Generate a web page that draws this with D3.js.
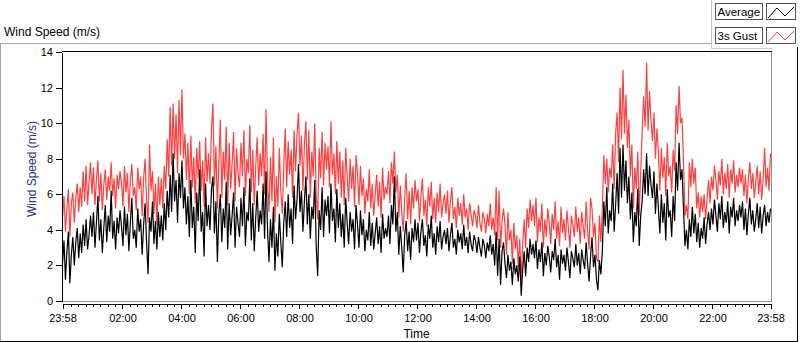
<!DOCTYPE html>
<html>
<head>
<meta charset="utf-8">
<script src="https://cdnjs.cloudflare.com/ajax/libs/d3/7.8.5/d3.min.js"></script>
<title>Wind Speed</title>
<style>
  body { margin: 0; background: #fff; }
  svg text { font-family: "Liberation Sans", Arial, sans-serif; }
</style>
</head>
<body>
<script>
// one sample every 3 minutes, 23:58 -> 23:58 next day
const stepMinutes = 3;
const seriesNames = ["Average", "3s Gust"];
const tickLabels = ["23:58", "02:00", "04:00", "06:00", "08:00", "10:00", "12:00",
                    "14:00", "16:00", "18:00", "20:00", "22:00", "23:58"];
const yTicks = [0, 2, 4, 6, 8, 10, 12, 14];

// average wind speed (m/s), one row per hour
const avgSpeed = [
  2.1,3.4,1.2,2.8,3.9,1.0,2.6,3.6,2.0,3.3,4.1,2.4,3.8,2.7,4.3,3.1,4.6,2.9,3.7,4.8,
  3.6,5.0,3.0,4.4,5.9,3.4,4.6,2.7,4.1,5.4,3.3,4.8,3.9,6.2,3.5,4.5,2.9,4.7,3.8,5.1,
  4.2,3.1,5.3,3.7,4.9,2.8,4.4,5.8,3.5,4.0,3.0,5.2,3.9,4.6,2.6,4.3,5.5,3.3,1.5,4.7,
  3.9,5.6,3.2,4.5,2.9,5.0,3.6,4.8,3.4,5.5,4.0,6.2,4.7,7.1,5.0,8.3,5.6,6.8,4.4,7.2,
  5.8,7.9,5.2,6.4,4.3,5.9,3.6,6.8,4.1,5.3,2.7,6.1,4.5,7.4,3.9,5.0,2.5,6.6,4.2,5.4,
  4.0,6.3,7.0,3.8,5.6,2.2,4.9,6.0,3.3,5.2,4.1,6.7,2.9,5.5,3.7,4.8,6.1,3.0,5.3,4.4,
  3.6,5.8,4.2,6.4,3.1,5.0,4.5,6.9,3.4,5.5,2.8,4.7,6.2,3.9,5.1,4.3,6.6,3.5,7.3,4.0,
  2.2,4.6,3.0,5.3,1.7,3.8,2.5,4.9,3.3,1.9,4.4,5.6,3.6,6.0,4.1,5.2,3.2,6.5,4.6,5.7,
  7.7,5.0,6.2,3.9,5.6,7.0,4.3,6.0,3.5,5.3,4.6,6.8,3.1,1.4,5.1,4.0,6.4,3.6,5.7,4.8,
  5.9,3.8,6.6,4.5,5.2,3.3,6.3,4.1,5.5,3.6,4.9,3.0,5.8,4.4,3.2,5.0,3.9,4.6,2.9,5.4,
  4.3,3.0,5.1,3.7,4.6,2.8,4.0,3.4,5.0,3.1,4.4,2.9,3.8,4.7,3.2,4.2,2.7,4.9,3.5,4.1,
  3.6,4.8,3.2,5.4,4.3,7.0,3.9,5.0,2.6,4.2,3.0,1.6,3.7,4.5,2.8,3.9,2.3,4.1,3.3,4.6,
  3.4,4.4,2.7,3.9,4.6,3.1,3.7,2.5,4.3,3.5,4.8,3.0,3.8,2.6,4.2,3.3,4.5,2.9,3.6,4.0,
  3.2,4.1,2.8,3.7,4.4,3.0,3.5,2.6,4.0,3.3,3.8,2.9,4.3,3.1,3.6,2.7,3.9,3.2,2.8,3.7,
  3.4,2.7,3.6,3.0,2.5,3.5,3.1,2.4,3.3,2.8,3.7,2.6,3.2,2.0,3.9,1.4,3.5,0.9,2.8,3.3,
  2.1,1.3,2.6,1.7,2.2,0.9,2.4,1.5,2.0,1.1,2.5,0.3,1.8,2.8,1.4,3.0,2.2,3.5,2.6,3.2,
  2.4,3.4,1.8,2.9,2.2,3.3,1.4,2.7,2.0,3.1,2.5,1.6,2.8,2.3,3.5,1.9,2.6,1.2,2.9,2.1,
  2.6,1.7,3.0,2.2,1.3,2.8,2.4,1.9,3.2,2.0,2.7,1.5,2.9,2.3,1.8,3.3,2.1,1.1,2.5,3.6,
  1.9,2.6,1.2,0.6,2.3,1.5,2.8,5.6,4.2,6.4,3.8,5.1,4.5,6.6,3.9,5.4,7.2,4.9,8.6,5.8,
  8.8,6.2,7.9,5.5,7.0,4.6,6.1,3.3,5.0,4.2,6.3,3.1,4.8,5.6,7.4,6.0,8.3,5.9,7.6,6.5,
  5.8,7.3,4.9,6.6,5.2,3.8,6.0,4.4,5.5,3.4,6.3,4.7,5.1,3.6,5.9,4.5,7.8,6.2,8.9,6.8,
  7.4,5.2,3.1,4.0,2.9,4.6,3.6,5.3,3.8,4.9,3.3,4.4,3.0,4.1,3.5,4.7,3.2,4.3,5.0,4.0,
  5.2,4.3,5.7,4.8,3.9,5.5,4.6,5.9,4.1,5.0,4.4,5.6,3.8,5.3,4.7,5.8,4.2,5.1,4.5,5.4,
  4.7,5.6,4.0,5.2,3.7,4.9,5.8,4.3,5.1,3.9,4.6,5.5,4.1,5.3,3.8,4.8,5.4,4.2,5.0,4.4,5.2
];

// 3 second gust (m/s), one row per hour
const gustSpeed = [
  4.6,5.9,3.9,5.2,6.3,3.6,5.5,6.1,4.4,5.8,6.6,5.0,6.4,5.3,7.3,5.6,7.6,5.4,6.7,7.8,
  6.0,7.5,5.4,6.8,7.9,5.6,7.2,5.1,6.5,7.4,5.7,7.0,6.2,7.8,5.9,6.9,5.2,7.1,6.3,7.3,
  6.6,5.3,7.6,6.1,7.2,5.0,6.8,7.7,5.9,6.4,5.1,7.5,6.3,7.0,4.8,6.9,8.0,5.6,4.4,8.8,
  6.2,7.3,4.9,6.6,4.3,7.0,5.4,6.9,5.2,7.6,6.3,9.1,7.0,10.9,7.6,11.1,8.0,10.5,7.2,11.3,
  8.2,11.9,8.0,9.4,6.8,8.9,6.0,9.3,6.4,8.1,5.5,8.6,6.9,9.0,6.2,7.9,5.3,9.2,6.7,8.3,
  6.6,9.6,11.1,6.5,8.7,5.2,7.8,10.2,5.8,8.4,6.8,9.8,5.4,8.9,6.3,7.7,9.5,5.6,8.6,7.2,
  6.4,8.9,7.0,9.6,5.9,8.0,7.2,9.9,6.1,8.5,5.4,7.6,9.2,6.5,8.3,7.0,9.4,6.0,10.8,6.8,
  5.0,8.1,5.6,9.2,4.4,7.0,5.3,8.6,6.2,4.9,7.6,9.7,6.4,9.0,7.1,8.5,5.8,9.6,7.3,9.4,
  10.6,7.6,9.3,6.2,8.8,10.1,6.8,9.6,5.8,8.4,7.0,10.0,5.9,4.6,8.6,6.9,9.5,6.5,8.9,7.4,
  8.7,6.4,10.1,7.1,8.3,6.0,9.0,6.6,8.4,5.8,7.9,5.4,8.6,7.0,5.6,8.0,6.3,7.6,5.3,8.2,
  7.2,5.4,7.6,5.9,6.9,4.9,6.3,5.6,7.4,5.2,6.6,4.8,6.0,7.1,5.3,6.7,4.7,7.5,5.7,6.4,
  6.0,7.3,5.5,7.8,6.6,8.4,6.1,7.1,4.7,6.5,5.0,3.9,5.8,7.2,4.6,6.2,4.3,6.4,5.2,6.8,
  5.6,6.3,4.5,5.9,6.9,4.8,5.7,4.2,6.4,5.3,6.7,4.6,5.8,4.4,6.1,5.0,6.6,4.7,5.5,6.0,
  4.9,6.2,4.4,5.6,6.4,4.6,5.3,4.1,5.8,4.8,5.5,4.3,6.0,4.7,5.2,4.0,5.5,4.9,4.2,5.1,
  4.8,4.1,5.4,4.4,3.9,5.0,4.6,3.8,4.9,4.2,5.5,4.0,4.7,3.7,6.4,3.4,6.2,3.0,4.5,5.2,
  4.3,2.6,5.0,3.4,4.0,2.1,4.4,2.9,3.7,1.9,3.5,1.2,3.2,4.6,3.0,5.2,4.1,5.7,4.5,5.4,
  4.2,5.8,3.3,4.7,3.9,5.5,3.0,4.6,3.6,5.2,4.4,3.2,4.9,4.0,5.6,3.5,4.5,3.1,5.3,3.8,
  4.6,3.4,5.1,4.1,3.0,4.8,4.3,3.6,5.3,3.9,4.7,3.2,5.0,4.2,3.5,5.6,4.0,2.9,5.8,5.2,
  3.6,4.4,2.4,2.2,4.8,3.3,5.2,8.2,6.6,8.0,6.1,7.5,6.9,8.8,6.3,9.4,10.6,7.8,12.0,9.1,
  13.0,9.4,11.6,8.6,10.2,7.0,8.8,5.2,7.5,6.3,8.4,4.8,7.2,9.5,11.5,9.8,13.4,9.6,11.8,10.1,
  9.0,10.6,8.0,9.7,8.4,6.2,8.6,6.9,8.1,5.9,8.9,7.0,7.6,6.1,8.5,7.3,11.0,9.4,12.1,10.0,
  10.3,7.9,4.8,5.4,4.6,7.8,6.4,8.0,6.6,7.5,5.2,6.1,4.7,5.9,5.0,6.0,4.6,5.7,6.8,5.5,
  7.0,6.2,7.6,6.8,5.7,7.3,6.5,8.0,6.0,7.2,6.3,7.7,5.8,7.4,6.6,7.9,6.1,7.1,6.4,7.5,
  6.6,7.4,5.9,7.1,5.5,6.9,7.8,6.3,7.2,5.8,6.7,7.6,6.0,7.3,5.7,6.8,8.6,6.4,7.5,6.2,8.3
];

const colors = { "Average": "#000000", "3s Gust": "#ff4040" };

const W = 800, H = 342;
const svg = d3.select("body").append("svg")
    .attr("width", W)
    .attr("height", H);

const start = new Date(2000, 0, 1, 23, 58);
const end = d3.timeMinute.offset(start, 1440);
const timeAt = i => d3.timeMinute.offset(start, i * stepMinutes);

const plot = { left: 62, right: 772, top: 52, bottom: 301 };

const x = d3.scaleTime().domain([start, end]).range([62.5, 770.5]);
const y = d3.scaleLinear().domain([0, 14]).range([plot.bottom, plot.top]);

// outer frame (sunken look) and title
svg.append("line").attr("x1", 0).attr("x2", 711).attr("y1", 43.5).attr("y2", 43.5)
    .attr("stroke", "#a0a0a0");
svg.append("line").attr("x1", 0.5).attr("x2", 0.5).attr("y1", 43).attr("y2", 341)
    .attr("stroke", "#a0a0a0");
svg.append("line").attr("x1", 0).attr("x2", 798).attr("y1", 341.5).attr("y2", 341.5)
    .attr("stroke", "#000");
svg.append("line").attr("x1", 797.5).attr("x2", 797.5).attr("y1", 47).attr("y2", 342)
    .attr("stroke", "#000");

svg.append("text")
    .attr("x", 4).attr("y", 36)
    .style("font-size", "12px")
    .attr("fill", "#000")
    .text("Wind Speed (m/s)");

// plot area border
svg.append("rect")
    .attr("x", plot.left).attr("y", plot.top)
    .attr("width", plot.right - plot.left).attr("height", plot.bottom - plot.top)
    .attr("fill", "#fff");
svg.append("line").attr("x1", plot.left).attr("x2", plot.right)
    .attr("y1", plot.top - 0.5).attr("y2", plot.top - 0.5).attr("stroke", "#000");
svg.append("line").attr("x1", plot.right - 0.5).attr("x2", plot.right - 0.5)
    .attr("y1", plot.top).attr("y2", plot.bottom + 1).attr("stroke", "#909090");
svg.append("line").attr("x1", plot.left).attr("x2", plot.right)
    .attr("y1", plot.bottom + 0.5).attr("y2", plot.bottom + 0.5).attr("stroke", "#909090");

svg.append("clipPath").attr("id", "clip")
  .append("rect")
    .attr("x", plot.left + 1).attr("y", plot.top)
    .attr("width", plot.right - plot.left - 2).attr("height", plot.bottom - plot.top + 1);

// series: gust under, average on top
const line = d3.line()
    .x((d, i) => x(timeAt(i)))
    .y(d => y(d));

const lines = svg.append("g").attr("clip-path", "url(#clip)");
lines.append("path")
    .datum(gustSpeed)
    .attr("fill", "none")
    .attr("stroke", colors["3s Gust"])
    .attr("stroke-width", 1.2)
    .attr("d", line);
lines.append("path")
    .datum(avgSpeed)
    .attr("fill", "none")
    .attr("stroke", colors["Average"])
    .attr("stroke-width", 1.2)
    .attr("d", line);

// y axis
const yAxis = svg.append("g")
    .attr("transform", "translate(" + plot.left + ",0)")
    .call(d3.axisLeft(y).tickValues(yTicks).tickSize(6).tickSizeOuter(0).tickPadding(3));
yAxis.select(".domain").attr("stroke", "#000").attr("shape-rendering", "crispEdges");
yAxis.selectAll("text").style("font-size", "11px").attr("fill", "#000")
    .style("font-family", "'Liberation Sans', Arial, sans-serif");

// x axis: minor ticks every 15 min, labelled majors
const majorTicks = tickLabels.map((s, i) => {
  if (i === 0) return start;
  if (i === tickLabels.length - 1) return end;
  return new Date(2000, 0, 2, +s.slice(0, 2), +s.slice(3));
});
const majorSet = new Set(majorTicks.map(d => +d));
const minorTicks = d3.timeMinute.every(15).range(start, end).filter(d => !majorSet.has(+d));

const xAxisY = 304;
const xMinor = svg.append("g")
    .attr("transform", "translate(0," + xAxisY + ")")
    .call(d3.axisBottom(x).tickValues(minorTicks).tickSize(3).tickSizeOuter(0).tickFormat(""));
xMinor.select(".domain").remove();

const xAxis = svg.append("g")
    .attr("transform", "translate(0," + xAxisY + ")")
    .call(d3.axisBottom(x).tickValues(majorTicks).tickSize(5).tickSizeOuter(0).tickPadding(5)
      .tickFormat((d, i) => tickLabels[i]));
xAxis.select(".domain").attr("stroke", "#000");
xAxis.selectAll("text").style("font-size", "11px").attr("fill", "#000")
    .style("font-family", "'Liberation Sans', Arial, sans-serif");
svg.selectAll(".tick line").attr("shape-rendering", "crispEdges");

// axis titles
svg.append("text")
    .attr("transform", "translate(36,169) rotate(-90)")
    .attr("text-anchor", "middle")
    .style("font-size", "12px")
    .attr("fill", "#24348a")
    .text("Wind Speed (m/s)");

svg.append("text")
    .attr("x", 416.5).attr("y", 338)
    .attr("text-anchor", "middle")
    .style("font-size", "12px")
    .attr("fill", "#000")
    .text("Time");

// legend panel
const legend = svg.append("g");
legend.append("path")
    .attr("d", "M711.5,0 V48.5 H772")
    .attr("fill", "none")
    .attr("stroke", "#c8c8c8");

seriesNames.forEach((name, i) => {
  const top = 3 + i * 24;
  legend.append("rect")
      .attr("x", 715.5).attr("y", top + 0.5)
      .attr("width", 47).attr("height", 16)
      .attr("fill", "#fff").attr("stroke", "#555");
  legend.append("text")
      .attr("x", 717.5).attr("y", top + 13)
      .style("font-size", "11.5px")
      .attr("fill", "#000")
      .text(name);
  legend.append("rect")
      .attr("x", 766.5).attr("y", top + 0.5)
      .attr("width", 29).attr("height", 16)
      .attr("fill", "#fff").attr("stroke", "#555");
  legend.append("polyline")
      .attr("points", [[768, top + 15], [777, top + 5], [785, top + 13], [794, top + 4]].join(" "))
      .attr("fill", "none")
      .attr("stroke", colors[name]);
});
</script>
</body>
</html>
